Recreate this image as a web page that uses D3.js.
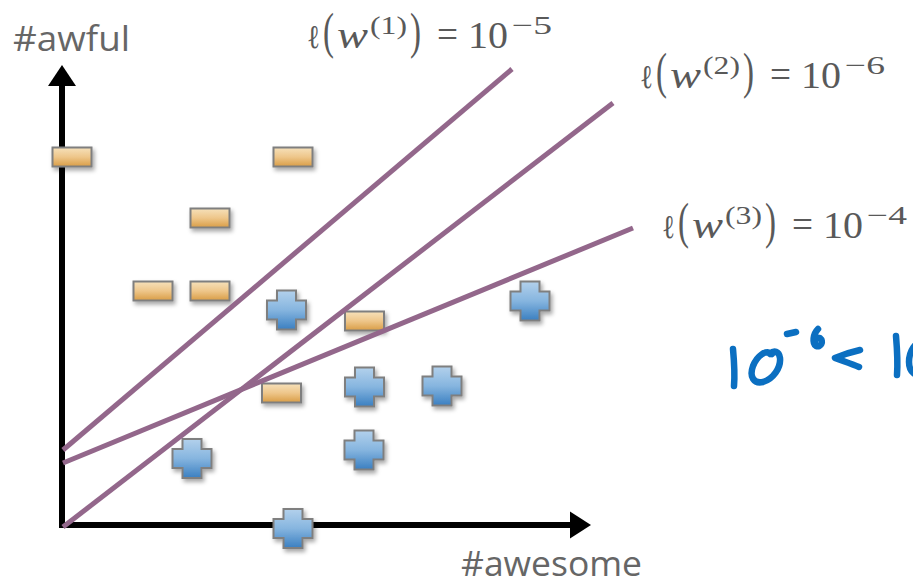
<!DOCTYPE html>
<html>
<head>
<meta charset="utf-8">
<script src="https://cdn.jsdelivr.net/npm/d3@7"></script>
<style>
  body { margin: 0; background: #fff; }
  svg { display: block; }
</style>
</head>
<body>
<div id="chart"></div>
<script>

// data (units of the #awesome / #awful plane)
var minusPoints = [[0.2, 7.36], [4.62, 7.36], [2.96, 6.14], [1.82, 4.68], [2.96, 4.68], [6.05, 4.08], [4.39, 2.64]];
var plusPoints = [[4.49, 4.3], [9.36, 4.48], [6.05, 2.76], [7.6, 2.78], [6.04, 1.5], [2.6, 1.33], [4.62, -0.07]];
var lineNames = ["1", "2", "3"];
var lineStarts = [[0.02, 1.5], [0.02, -0.04], [0.02, 1.24]];
var lineEnds = [[9.0, 9.12], [11.02, 8.44], [11.42, 5.94]];
var lossExps = ["−5", "−6", "−4"];
var axisMax = [10.58, 9.2];
var axisNames = ["#awesome", "#awful"];

var width = 913, height = 582;

var svg = d3.select("#chart").append("svg")
    .attr("width", width)
    .attr("height", height);

var x = d3.scaleLinear().domain([0, 10]).range([62, 562]);
var y = d3.scaleLinear().domain([0, 10]).range([525, 25]);

var defs = svg.append("defs");

var shadow = defs.append("filter").attr("id", "shadow")
    .attr("x", "-30%").attr("y", "-30%").attr("width", "160%").attr("height", "180%");
shadow.append("feDropShadow")
    .attr("dx", 2).attr("dy", 3).attr("stdDeviation", 2)
    .attr("flood-color", "#000").attr("flood-opacity", 0.35);

function gradient(id, stops) {
    var gr = defs.append("linearGradient").attr("id", id)
        .attr("x1", 0).attr("y1", 0).attr("x2", 0).attr("y2", 1);
    stops.forEach(function(s) {
        gr.append("stop").attr("offset", s[0]).attr("stop-color", s[1]);
    });
}
gradient("gradBlue", [[0, "#b3d1ec"], [0.5, "#86b5df"], [1, "#3a7fc1"]]);
gradient("gradOrange", [[0, "#f6e1bb"], [0.5, "#eec68a"], [1, "#d99d45"]]);

// axes
var axes = svg.append("g");
axes.append("line")
    .attr("x1", x(0) - 3).attr("y1", y(0))
    .attr("x2", x(axisMax[0]) - 20).attr("y2", y(0))
    .attr("stroke", "#000").attr("stroke-width", 6);
axes.append("line")
    .attr("x1", x(0)).attr("y1", y(0) + 3)
    .attr("x2", x(0)).attr("y2", y(axisMax[1]) + 20)
    .attr("stroke", "#000").attr("stroke-width", 6);
axes.append("path")
    .attr("d", "M" + x(axisMax[0]) + "," + y(0) + "L" + (x(axisMax[0]) - 21) + "," + (y(0) - 13.5) +
        "L" + (x(axisMax[0]) - 21) + "," + (y(0) + 13.5) + "Z")
    .attr("fill", "#000");
axes.append("path")
    .attr("d", "M" + x(0) + "," + y(axisMax[1]) + "L" + (x(0) - 14) + "," + (y(axisMax[1]) + 21) +
        "L" + (x(0) + 14) + "," + (y(axisMax[1]) + 21) + "Z")
    .attr("fill", "#000");

axes.append("text")
    .attr("x", 461).attr("y", 576)
    .attr("font-family", "'Open Sans', sans-serif").attr("font-size", 35)
    .attr("textLength", 181).attr("lengthAdjust", "spacingAndGlyphs")
    .attr("fill", "#666")
    .text(axisNames[0]);
axes.append("text")
    .attr("x", 13).attr("y", 51)
    .attr("font-family", "'Open Sans', sans-serif").attr("font-size", 35)
    .attr("textLength", 117).attr("lengthAdjust", "spacingAndGlyphs")
    .attr("fill", "#666")
    .text(axisNames[1]);

// markers
var marks = svg.append("g").attr("filter", "url(#shadow)");

marks.selectAll(".minus")
    .data(minusPoints)
    .enter().append("rect")
    .attr("class", "minus")
    .attr("x", function(d) { return x(d[0]) - 19.5; })
    .attr("y", function(d) { return y(d[1]) - 9.5; })
    .attr("width", 39).attr("height", 19)
    .attr("fill", "url(#gradOrange)")
    .attr("stroke", "#7f7f7f").attr("stroke-width", 2);

function plusPath(cx, cy) {
    var r = 19.5, a = 9.5;
    return "M" + (cx - a) + "," + (cy - r) + "H" + (cx + a) + "V" + (cy - a) + "H" + (cx + r) +
        "V" + (cy + a) + "H" + (cx + a) + "V" + (cy + r) + "H" + (cx - a) + "V" + (cy + a) +
        "H" + (cx - r) + "V" + (cy - a) + "H" + (cx - a) + "Z";
}

marks.selectAll(".plus")
    .data(plusPoints)
    .enter().append("path")
    .attr("class", "plus")
    .attr("d", function(d) { return plusPath(x(d[0]), y(d[1])); })
    .attr("fill", "url(#gradBlue)")
    .attr("stroke", "#7f7f7f").attr("stroke-width", 2)
    .attr("stroke-linejoin", "miter");

// decision lines
svg.append("g").selectAll(".bound")
    .data(lineNames)
    .enter().append("line")
    .attr("class", "bound")
    .attr("x1", function(d, i) { return x(lineStarts[i][0]); })
    .attr("y1", function(d, i) { return y(lineStarts[i][1]); })
    .attr("x2", function(d, i) { return x(lineEnds[i][0]); })
    .attr("y2", function(d, i) { return y(lineEnds[i][1]); })
    .attr("stroke", "#93678b").attr("stroke-width", 5);

// loss labels: ℓ(w^(i)) = 10^e, one text per label, one tspan per piece
var labelPos = [[307, 48], [640, 88], [662, 238]];
var serif = "'Liberation Serif', 'DejaVu Serif', serif";
// piece: [text, dx, width, fontSize, dy, italic, family]
function pieces(name, e) {
    return [
        ["ℓ", 0, 13, 33, 0, false, "'DejaVu Serif', serif"],
        ["(", 16, 11, 50, 0, false, serif],
        ["w", 30, 31, 38, 0, true, serif],
        ["(" + name + ")", 63, 37, 25, -14, false, serif],
        [")", 103, 11, 50, 0, false, serif],
        ["=", 130, 21, 40, 0, false, serif],
        ["10", 161, 40, 38, 0, false, serif],
        [e, 205, 40, 26, -14, false, serif]
    ];
}

var labels = svg.append("g").selectAll(".loss")
    .data(lineNames)
    .enter().append("text")
    .attr("class", "loss")
    .attr("fill", "#595959")
    .attr("font-family", serif);

labels.each(function(d, i) {
    var x0 = labelPos[i][0], y0 = labelPos[i][1];
    d3.select(this).selectAll("tspan")
        .data(pieces(d, lossExps[i]))
        .enter().append("tspan")
        .attr("x", function(p) { return x0 + p[1]; })
        .attr("y", function(p) { return y0 + p[4]; })
        .attr("font-family", function(p) { return p[6]; })
        .attr("font-size", function(p) { return p[3]; })
        .attr("font-style", function(p) { return p[5] ? "italic" : "normal"; })
        .attr("textLength", function(p) { return p[2]; })
        .attr("lengthAdjust", "spacingAndGlyphs")
        .text(function(p) { return p[0]; });
});

// handwritten note "10^-6 < 10..."
var ink = svg.append("g")
    .attr("fill", "none").attr("stroke", "#0b6fc1")
    .attr("stroke-width", 6.5).attr("stroke-linecap", "round").attr("stroke-linejoin", "round");
ink.append("path").attr("d", "M733,349 C734,360 735,374 734,386");
ink.append("path").attr("d", "M772,354 C766,349 757,356 753,366 C749,377 754,384 763,382 C773,379 781,368 780,358 C779,351 774,350 770,354");
ink.append("path").attr("d", "M787,334 L796,332");
ink.append("path").attr("d", "M818,329 C813,334 812,343 816,346 C821,348 824,341 820,338 C817,337 815,339 815,342");
ink.append("path").attr("d", "M860,350 C851,352 842,355 835,358 C843,361 852,364 859,367");
ink.append("path").attr("d", "M896,336 C897,348 898,362 897,375");
ink.append("path").attr("d", "M925,342 C915,340 909,352 909,362 C909,372 916,378 925,374");

</script>
</body>
</html>
